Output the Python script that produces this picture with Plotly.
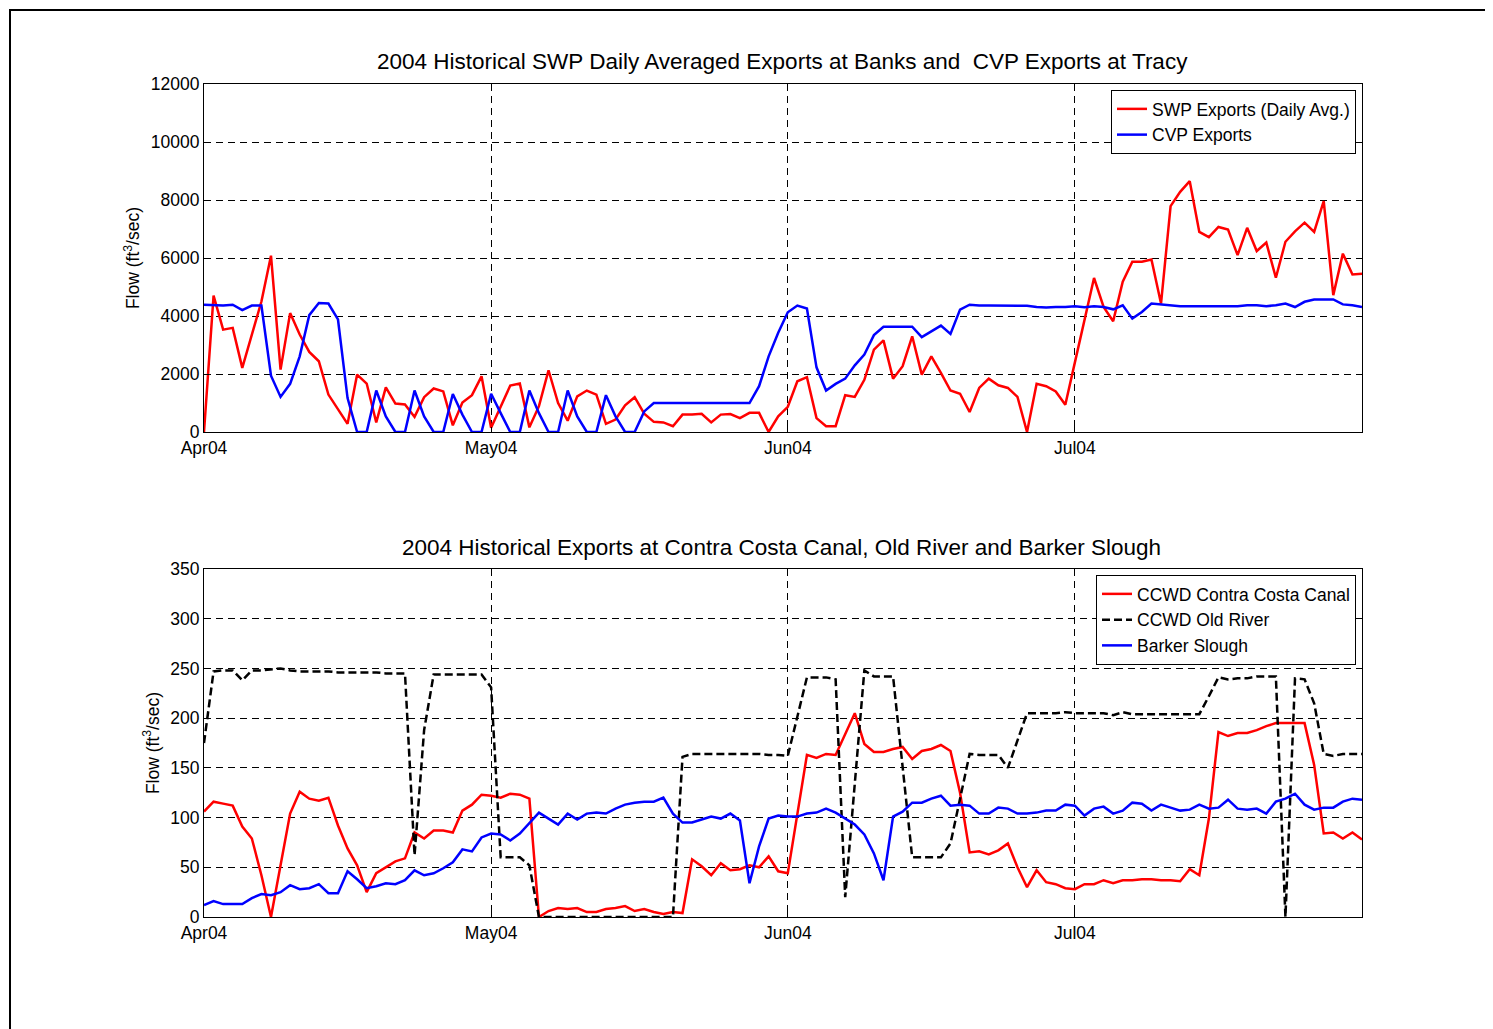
import plotly.graph_objects as go
import pandas as pd

# ---------------- data (daily, 2004-04-01 .. 2004-07-31) ----------------
dates = pd.date_range("2004-04-01", "2004-07-31", freq="D")

swp = [0, 4700, 3530, 3590, 2210, 3400, 4500, 6080, 2150, 4100,
       3360, 2760, 2440, 1290, 770, 280, 1980, 1670, 330, 1540,
       980, 950, 520, 1200, 1500, 1400, 230, 1020, 1270, 1920,
       150, 900, 1600, 1670, 160, 890, 2130, 1000, 390, 1230,
       1430, 1290, 280, 430, 920, 1200, 630, 350, 330, 200,
       600, 600, 630, 330, 600, 620, 480, 660, 660, 0,
       540, 870, 1750, 1890, 480, 200, 200, 1270, 1210, 1800,
       2840, 3160, 1840, 2270, 3300, 1980, 2610, 2040, 1430, 1320,
       690, 1520, 1840, 1610, 1520, 1210, 0, 1660, 1580, 1400,
       940, 2400, 3850, 5310, 4310, 3820, 5180, 5870, 5870, 5950,
       4430, 7790, 8280, 8650, 6900, 6720, 7070, 6980, 6100, 7040,
       6240, 6530, 5320, 6560, 6920, 7220, 6900, 7960, 4720, 6150,
       5430, 5460]

cvp = [4390, 4370, 4360, 4390, 4200, 4360, 4360, 1940, 1210, 1660,
       2610, 4030, 4450, 4430, 3880, 1170, 0, 0, 1430, 540,
       0, 0, 1430, 540, 0, 0, 1310, 600, 0, 0,
       1320, 650, 0, 0, 1430, 650, 0, 0, 1430, 540,
       0, 0, 1270, 540, 0, 0, 710, 1000, 1000, 1000,
       1000, 1000, 1000, 1000, 1000, 1000, 1000, 1000, 1580, 2610,
       3420, 4130, 4360, 4260, 2230, 1430, 1660, 1840, 2300, 2670,
       3340, 3630, 3630, 3630, 3630, 3270, 3470, 3670, 3380, 4220,
       4390, 4360, 4360, 4360, 4360, 4360, 4350, 4310, 4290, 4310,
       4310, 4340, 4300, 4340, 4310, 4230, 4370, 3910, 4140, 4430,
       4400, 4370, 4340, 4340, 4340, 4340, 4340, 4340, 4340, 4370,
       4370, 4340, 4370, 4430, 4310, 4490, 4570, 4570, 4570, 4400,
       4370, 4310]

ccwd_canal = [106, 116, 114, 112, 91, 79, 42, 0, 52, 104,
              126, 119, 117, 120, 92, 69, 52, 25, 44, 50,
              56, 59, 85, 79, 87, 87, 85, 107, 113, 123,
              122, 120, 124, 123, 119, 0, 6, 9, 8, 9,
              5, 5, 8, 9, 11, 6, 8, 5, 3, 5,
              4, 58, 51, 42, 54, 47, 48, 52, 50, 61,
              46, 44, 104, 163, 160, 164, 163, 184, 205, 174,
              166, 166, 169, 171, 159, 167, 169, 173, 167, 125,
              65, 66, 63, 67, 74, 50, 30, 47, 35, 33,
              29, 28, 33, 33, 37, 34, 37, 37, 38, 38,
              37, 37, 36, 48, 42, 99, 186, 182, 185, 185,
              188, 192, 195, 195, 195, 195, 153, 84, 85, 79,
              85, 78]

ccwd_old_river = [175, 247, 248, 248, 238, 248, 248, 249, 250, 248,
                  247, 247, 247, 247, 246, 246, 246, 246, 246, 245,
                  245, 245, 62, 188, 244, 244, 244, 244, 244, 244,
                  231, 60, 60, 60, 52, 0, 0, 0, 0, 0,
                  0, 0, 0, 0, 0, 0, 0, 0, 0, 0,
                  161, 164, 164, 164, 164, 164, 164, 164, 164, 163,
                  163, 162, 201, 241, 241, 241, 239, 20, 134, 248,
                  242, 242, 242, 151, 60, 60, 60, 60, 74, 119,
                  164, 163, 163, 163, 150, 178, 205, 205, 205, 205,
                  206, 205, 205, 205, 205, 203, 206, 204, 204, 204,
                  204, 204, 204, 204, 204, 222, 241, 239, 240, 240,
                  242, 242, 242, 0, 240, 239, 215, 164, 162, 164,
                  164, 164]

barker = [12, 16, 13, 13, 13, 19, 23, 22, 25, 32,
          28, 29, 33, 24, 24, 46, 38, 29, 31, 34,
          33, 37, 47, 42, 44, 49, 55, 68, 66, 80,
          84, 83, 77, 84, 94, 105, 99, 93, 104, 98,
          104, 105, 104, 109, 113, 115, 116, 116, 120, 104,
          95, 95, 98, 101, 99, 104, 97, 34, 71, 99,
          102, 101, 101, 104, 105, 109, 105, 99, 93, 83,
          64, 37, 101, 106, 115, 115, 119, 122, 112, 113,
          112, 104, 104, 110, 109, 104, 104, 105, 107, 107,
          113, 112, 102, 109, 111, 104, 107, 115, 114, 107,
          113, 110, 107, 108, 113, 109, 110, 118, 109, 108,
          109, 104, 116, 119, 124, 113, 108, 110, 110, 116,
          119, 118]

month_ticks = ["2004-04-01", "2004-05-01", "2004-06-01", "2004-07-01"]
month_labels = ["Apr04", "May04", "Jun04", "Jul04"]
top_yticks = [0, 2000, 4000, 6000, 8000, 10000, 12000]
top_ylabels = ["0", "2000", "4000", "6000", "8000", "10000", "12000"]
bot_yticks = [0, 50, 100, 150, 200, 250, 300, 350]
bot_ylabels = ["0", "50", "100", "150", "200", "250", "300", "350"]

top_title = "2004 Historical SWP Daily Averaged Exports at Banks and \u00a0CVP Exports at Tracy"
bot_title = "2004 Historical Exports at Contra Costa Canal, Old River and Barker Slough"
ytitle = "Flow (ft<sup>3</sup>/sec)"

# ---------------- figure ----------------
W, H = 1493, 1029
OFF = 8  # page body margin in the browser
FONT = "Liberation Sans, Arial, sans-serif"
FS = 17.5

def px_x(p):
    return (p - OFF) / W

def px_y(p):
    return (H - (p - OFF)) / H

fig = go.Figure()
fig.add_trace(go.Scatter(x=dates, y=swp, mode="lines", name="SWP Exports (Daily Avg.)",
                         line=dict(color="#ff0000", width=2.5), xaxis="x", yaxis="y", legend="legend"))
fig.add_trace(go.Scatter(x=dates, y=cvp, mode="lines", name="CVP Exports",
                         line=dict(color="#0000ff", width=2.5), xaxis="x", yaxis="y", legend="legend"))
fig.add_trace(go.Scatter(x=dates, y=ccwd_canal, mode="lines", name="CCWD Contra Costa Canal",
                         line=dict(color="#ff0000", width=2.5), xaxis="x2", yaxis="y2", legend="legend2"))
fig.add_trace(go.Scatter(x=dates, y=ccwd_old_river, mode="lines", name="CCWD Old River",
                         line=dict(color="#000000", width=2.5, dash="8px,4px"), xaxis="x2", yaxis="y2",
                         legend="legend2"))
fig.add_trace(go.Scatter(x=dates, y=barker, mode="lines", name="Barker Slough",
                         line=dict(color="#0000ff", width=2.5), xaxis="x2", yaxis="y2", legend="legend2"))

xdom = [px_x(204), px_x(1362)]
xr = ["2004-04-01", "2004-07-31"]

common_x = dict(range=xr, tickvals=month_ticks, ticktext=month_labels, tickmode="array",
                automargin=False,
                showline=True, linecolor="black", linewidth=1, mirror="ticks",
                ticks="inside", ticklen=5, tickcolor="black",
                showgrid=True, gridcolor="black", gridwidth=1, griddash="7px,5px",
                zeroline=False, tickfont=dict(size=FS, color="black", family=FONT))
common_y = dict(automargin=False,
                showline=True, linecolor="black", linewidth=1, mirror="ticks",
                ticks="inside", ticklen=5, tickcolor="black",
                showgrid=True, gridcolor="black", gridwidth=1, griddash="7px,5px",
                zeroline=False, tickfont=dict(size=FS, color="black", family=FONT),
                title=dict(text=ytitle, font=dict(size=FS, color="black", family=FONT), standoff=6))

fig.update_layout(
    width=W, height=H,
    autosize=False,
    margin=dict(l=0, r=0, t=0, b=0, pad=0, autoexpand=False),
    paper_bgcolor="white", plot_bgcolor="white",
    font=dict(family=FONT, size=FS, color="black"),
    xaxis=dict(domain=xdom, anchor="y", **common_x),
    yaxis=dict(domain=[px_y(432), px_y(84)], anchor="x", range=[0, 12000],
               tickvals=top_yticks, ticktext=top_ylabels, tickmode="array", **common_y),
    xaxis2=dict(domain=xdom, anchor="y2", **common_x),
    yaxis2=dict(domain=[px_y(917), px_y(569)], anchor="x2", range=[0, 350],
                tickvals=bot_yticks, ticktext=bot_ylabels, tickmode="array", **common_y),
    legend=dict(x=px_x(1356), y=px_y(90), xanchor="right", yanchor="top",
                bgcolor="white", bordercolor="black", borderwidth=1,
                font=dict(size=FS, family=FONT, color="black"), tracegroupgap=0),
    legend2=dict(x=px_x(1356), y=px_y(575), xanchor="right", yanchor="top",
                 bgcolor="white", bordercolor="black", borderwidth=1,
                 font=dict(size=FS, family=FONT, color="black"), tracegroupgap=0),
    showlegend=True,
    annotations=[
        dict(text=top_title, x=px_x(782), y=px_y(62), xref="paper", yref="paper",
             xanchor="center", yanchor="middle", showarrow=False,
             font=dict(size=22.5, family=FONT, color="black")),
        dict(text=bot_title, x=px_x(781), y=px_y(547), xref="paper", yref="paper",
             xanchor="center", yanchor="middle", showarrow=False,
             font=dict(size=22.5, family=FONT, color="black")),
    ],
    shapes=[dict(type="rect", xref="paper", yref="paper",
                 x0=px_x(10), y0=-0.2, x1=1.2, y1=px_y(10),
                 line=dict(color="black", width=2), fillcolor="rgba(0,0,0,0)")],
)

fig.write_html("out.html")
